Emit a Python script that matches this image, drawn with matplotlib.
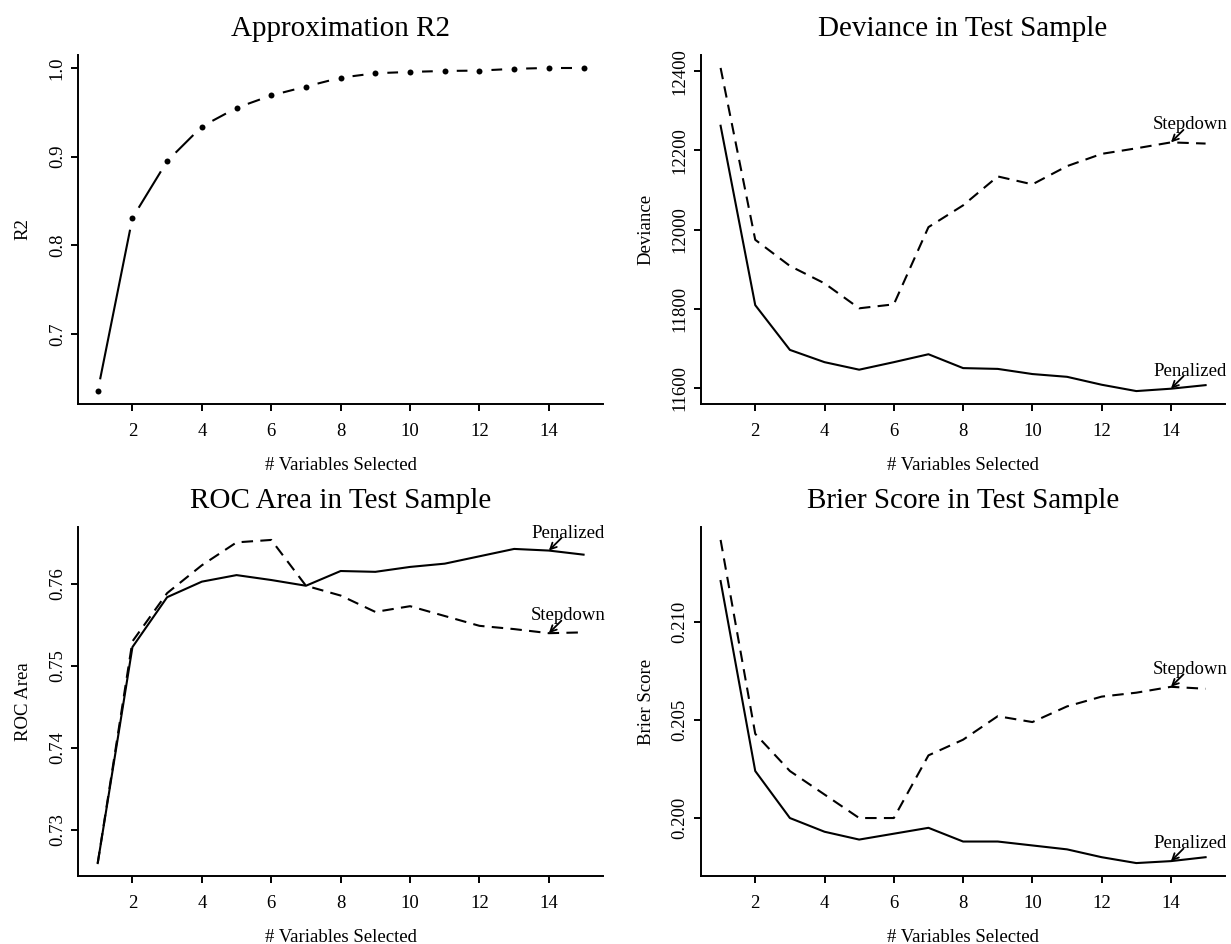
"""Four-panel comparison of stepdown vs penalized variable selection (R base-graphics look)."""
import numpy as np
import matplotlib
matplotlib.use("Agg")
import matplotlib.pyplot as plt

plt.rcParams["font.family"] = ["Liberation Serif", "DejaVu Serif"]

# ---- data ------------------------------------------------------------------
n_vars = list(range(1, 16))

r2_approx = [0.636, 0.831, 0.895, 0.934, 0.955, 0.969, 0.979, 0.989,
             0.994, 0.9955, 0.9966, 0.997, 0.999, 1.0, 1.0]

dev_stepdown = [12408, 11974, 11908, 11864, 11801, 11811, 12006, 12061,
                12134, 12114, 12160, 12191, 12205, 12220, 12217]
dev_penalized = [12262, 11809, 11696, 11665, 11646, 11665, 11685, 11650,
                 11648, 11635, 11628, 11608, 11592, 11598, 11607]

roc_stepdown = [0.7259, 0.7530, 0.7589, 0.7623, 0.7651, 0.7654, 0.7598, 0.7586,
                0.7566, 0.7573, 0.7561, 0.7549, 0.7545, 0.7540, 0.7541]
roc_penalized = [0.7259, 0.7523, 0.7584, 0.7603, 0.7611, 0.7605, 0.7598, 0.7616,
                 0.7615, 0.7621, 0.7625, 0.7634, 0.7643, 0.7641, 0.7636]

brier_stepdown = [0.2142, 0.2043, 0.2024, 0.2012, 0.2000, 0.2000, 0.2032, 0.2040,
                  0.2052, 0.2049, 0.2057, 0.2062, 0.2064, 0.2067, 0.2066]
brier_penalized = [0.2121, 0.2024, 0.2000, 0.1993, 0.1989, 0.1992, 0.1995, 0.1988,
                   0.1988, 0.1986, 0.1984, 0.1980, 0.1977, 0.1978, 0.1980]

x_ticks = [2, 4, 6, 8, 10, 12, 14]
r2_ticks = [0.7, 0.8, 0.9, 1.0]
dev_ticks = [11600, 11800, 12000, 12200, 12400]
roc_ticks = [0.73, 0.74, 0.75, 0.76]
brier_ticks = [0.200, 0.205, 0.210]

LABEL_AT = 14          # curves are labelled at this x
XLAB = "# Variables Selected"

# ---- styling -----------------------------------------------------------------
LW = 1.5
FS = 13.5
FS_TITLE = 21
DASH = (5.5, 3.5)

W, H = 1231, 944
fig = plt.figure(figsize=(W / 100, H / 100), dpi=100)


def new_axes(x0, x1, y_top, y_bot):
    """Axes from pixel edges of the plot region."""
    return fig.add_axes([x0 / W, 1 - y_bot / H, (x1 - x0) / W, (y_bot - y_top) / H])


def r_lims(*series):
    vals = np.concatenate([np.asarray(s, dtype=float) for s in series])
    lo, hi = vals.min(), vals.max()
    pad = 0.04 * (hi - lo)
    return lo - pad, hi + pad


def style(ax, title, ylabel, yticks, ylabels, ylim):
    xs = np.asarray(n_vars)
    pad = 0.04 * (xs.max() - xs.min())
    ax.set_xlim(xs.min() - pad, xs.max() + pad)
    ax.set_ylim(*ylim)
    for s in ("top", "right"):
        ax.spines[s].set_visible(False)
    for s in ("left", "bottom"):
        ax.spines[s].set_linewidth(1.4)
    ax.set_xticks(x_ticks)
    ax.set_yticks(yticks)
    ax.set_yticklabels(ylabels)
    ax.tick_params(direction="out", length=5, width=1.4, labelsize=FS)
    ax.tick_params(axis="x", pad=8.5)
    ax.tick_params(axis="y", pad=4, labelrotation=90)
    for lbl in ax.get_yticklabels():
        lbl.set_va("center")
    ax.text(0.5, 1.0745, title, transform=ax.transAxes, ha="center", va="center",
            fontsize=FS_TITLE)
    ax.text(0.5, -0.175, XLAB, transform=ax.transAxes, ha="center", va="center",
            fontsize=FS)
    ax.text(-0.105, 0.5, ylabel, transform=ax.transAxes, ha="center", va="center",
            rotation=90, fontsize=FS)


def label_curve(ax, text, xs, ys):
    i = list(xs).index(LABEL_AT)
    xy = (xs[i], ys[i])
    ax.annotate("", xy=xy, xytext=(9, 9), textcoords="offset points",
                arrowprops=dict(arrowstyle="->", lw=1.3, color="black",
                                shrinkA=0, shrinkB=0, mutation_scale=11))
    ax.annotate(text, xy=xy, xytext=(13.7, 9.4), textcoords="offset points",
                ha="center", va="baseline", fontsize=FS, annotation_clip=False)


def two_curves(ax, stepdown, penalized):
    ax.plot(n_vars, penalized, color="black", lw=LW)
    ln, = ax.plot(n_vars, stepdown, color="black", lw=LW)
    ln.set_dashes(DASH)
    label_curve(ax, "Stepdown", n_vars, stepdown)
    label_curve(ax, "Penalized", n_vars, penalized)


# ---- panel 1: approximation R2 (type = "b") ---------------------------------
ax1 = new_axes(78.3, 603, 55, 404)
style(ax1, "Approximation R2", "R2", r2_ticks, ["0.7", "0.8", "0.9", "1.0"],
      r_lims(r2_approx))
ax1.plot(n_vars, r2_approx, "o", color="black", ms=4.3, mec="none")
GAP = 12.0  # pixels left blank around each point, like R's type="b"
pts = ax1.transData.transform(np.column_stack([n_vars, r2_approx]))
inv = ax1.transData.inverted()
for p0, p1 in zip(pts[:-1], pts[1:]):
    d = p1 - p0
    L = np.hypot(*d)
    if L <= 2 * GAP:
        continue
    u = d / L
    a = inv.transform(p0 + u * GAP)
    b = inv.transform(p1 - u * GAP)
    ax1.plot([a[0], b[0]], [a[1], b[1]], color="black", lw=LW, solid_capstyle="butt")

# ---- panel 2: deviance ------------------------------------------------------
ax2 = new_axes(701.2, 1225, 55, 404)
style(ax2, "Deviance in Test Sample", "Deviance", dev_ticks,
      [str(t) for t in dev_ticks], r_lims(dev_stepdown, dev_penalized))
two_curves(ax2, dev_stepdown, dev_penalized)

# ---- panel 3: ROC area ------------------------------------------------------
ax3 = new_axes(78.3, 603, 527, 876)
style(ax3, "ROC Area in Test Sample", "ROC Area", roc_ticks,
      ["0.73", "0.74", "0.75", "0.76"], r_lims(roc_stepdown, roc_penalized))
two_curves(ax3, roc_stepdown, roc_penalized)

# ---- panel 4: Brier score ---------------------------------------------------
ax4 = new_axes(701.2, 1225, 527, 876)
style(ax4, "Brier Score in Test Sample", "Brier Score", brier_ticks,
      ["0.200", "0.205", "0.210"], r_lims(brier_stepdown, brier_penalized))
two_curves(ax4, brier_stepdown, brier_penalized)

fig.savefig("out.png", dpi=100, facecolor="white")
